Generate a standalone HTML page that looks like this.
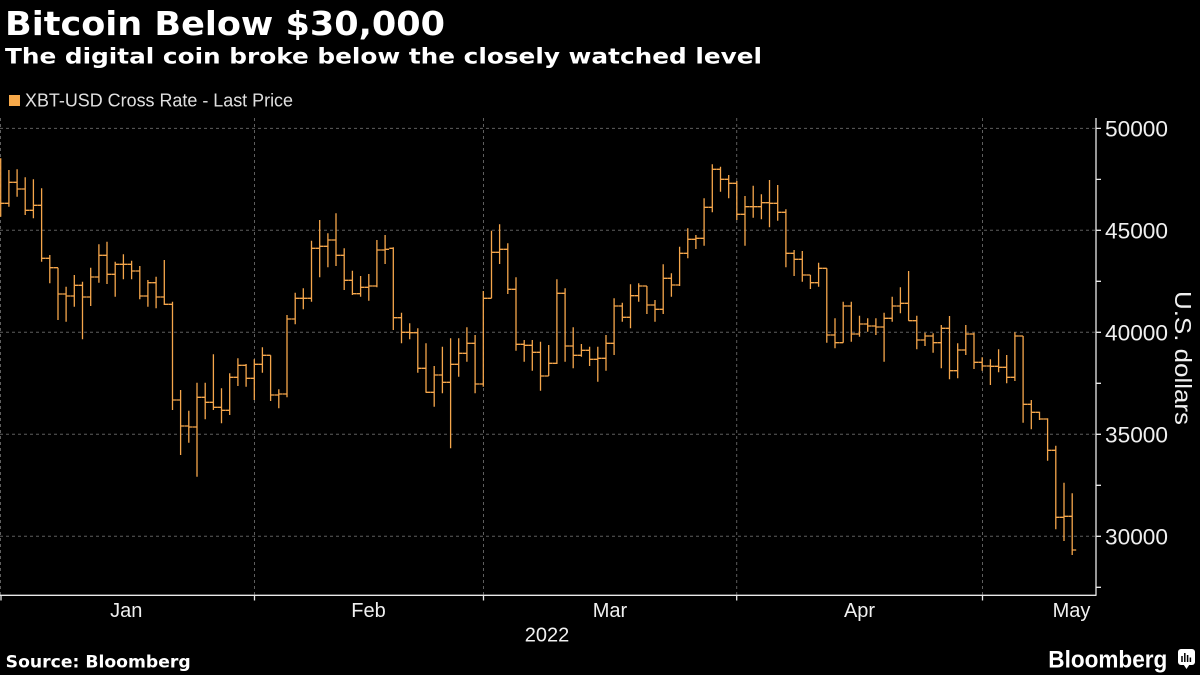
<!DOCTYPE html>
<html><head><meta charset="utf-8"><style>
html,body{margin:0;padding:0;background:#000;}
svg{display:block;}
</style></head><body>
<svg width="1200" height="675" viewBox="0 0 1200 675" xmlns="http://www.w3.org/2000/svg">
<rect width="1200" height="675" fill="#000"/>
<text x="5" y="35" font-family="DejaVu Sans, sans-serif" font-weight="bold" font-size="33" fill="#fff" textLength="440" lengthAdjust="spacingAndGlyphs">Bitcoin Below $30,000</text>
<text x="5" y="63.5" font-family="DejaVu Sans, sans-serif" font-weight="bold" font-size="21" fill="#fff" textLength="757" lengthAdjust="spacingAndGlyphs">The digital coin broke below the closely watched level</text>
<rect x="9" y="95" width="11" height="11" fill="#f7a94a"/>
<text x="25" y="106.7" font-family="Liberation Sans, sans-serif" font-size="18" fill="#e0e0e0" textLength="268" lengthAdjust="spacingAndGlyphs">XBT-USD Cross Rate - Last Price</text>
<g stroke="#5e5e5e" stroke-width="1" stroke-dasharray="3,3" fill="none">
<path d="M0 128.4H1096M0 230.3H1096M0 332.3H1096M0 434.3H1096M0 536.3H1096"/>
<path d="M0.5 118V595M254.5 118V595M483.5 118V595M736.7 118V595M982.5 118V595"/>
</g>
<g stroke="#e8e8e8" stroke-width="1.3" fill="none">
<path d="M0 595.3H1096.5M1096 118V595.3"/>
<path d="M1096 128.4H1101M1096 179.4H1101M1096 230.3H1101M1096 281.3H1101M1096 332.3H1101M1096 383.3H1101M1096 434.3H1101M1096 485.3H1101M1096 536.3H1101M1096 587.3H1101"/>
<path d="M1 595V600.5M254.5 595V600.5M483.5 595V600.5M736.7 595V600.5M982.5 595V600.5"/>
</g>
<g font-family="Liberation Sans, sans-serif" font-size="22.5" fill="#f0f0f0">
<text x="1105" y="136.4" textLength="63" lengthAdjust="spacingAndGlyphs">50000</text>
<text x="1105" y="238.3" textLength="63" lengthAdjust="spacingAndGlyphs">45000</text>
<text x="1105" y="340.3" textLength="63" lengthAdjust="spacingAndGlyphs">40000</text>
<text x="1105" y="442.3" textLength="63" lengthAdjust="spacingAndGlyphs">35000</text>
<text x="1105" y="544.3" textLength="63" lengthAdjust="spacingAndGlyphs">30000</text>
</g>
<text transform="translate(1175,358) rotate(90)" text-anchor="middle" font-family="Liberation Sans, sans-serif" font-size="23" fill="#f0f0f0" textLength="134" lengthAdjust="spacingAndGlyphs">U.S. dollars</text>
<g font-family="Liberation Sans, sans-serif" font-size="20" fill="#f0f0f0" text-anchor="middle">
<text x="126.3" y="617">Jan</text>
<text x="368.5" y="617">Feb</text>
<text x="610" y="617">Mar</text>
<text x="859.5" y="617">Apr</text>
<text x="1071.5" y="617">May</text>
<text x="547" y="641.7">2022</text>
</g>
<text x="5.7" y="667.3" font-family="DejaVu Sans, sans-serif" font-weight="bold" font-size="17" fill="#fff" textLength="185" lengthAdjust="spacingAndGlyphs">Source: Bloomberg</text>
<text x="1048.3" y="667.3" font-family="Liberation Sans, sans-serif" font-weight="bold" font-size="24" fill="#fff" textLength="119" lengthAdjust="spacingAndGlyphs">Bloomberg</text>
<rect x="1178" y="649" width="17" height="16" rx="3" fill="#fff"/>
<path d="M1183.5 664.5L1186.5 669L1189.5 664.5Z" fill="#fff"/>
<path d="M1182 656V662M1184.8 653V662M1187.6 655V662M1190.4 657.5V662" stroke="#000" stroke-width="1.5"/>
<clipPath id="pc"><rect x="0" y="110" width="1096" height="485"/></clipPath>
<g clip-path="url(#pc)" stroke="#f5a64b" stroke-width="1.3" fill="none">
<path d="M-3.3 203.3H0.7M0.7 158.3V216.7M0.7 203.3H4.7
M4.9 203.3H8.9M8.9 170V206.7M8.9 182.3H12.9
M13.1 182.3H17.1M17.1 169.3V196.7M17.1 189H21.1
M21.2 189H25.2M25.2 177.3V215M25.2 210.3H29.2
M29.4 210.3H33.4M33.4 179.3V218.3M33.4 205.3H37.4
M37.6 205.3H41.6M41.6 188.3V261.7M41.6 258.3H45.6
M45.8 258.3H49.8M49.8 255V283.3M49.8 267.7H53.8
M54 267.7H58M58 267.7V320M58 294H62
M62.1 294H66.1M66.1 286.7V321.7M66.1 296H70.1
M70.3 296H74.3M74.3 275V306.7M74.3 285.3H78.3
M78.5 285.3H82.5M82.5 281.7V339.3M82.5 297H86.5
M86.7 297H90.7M90.7 267.7V306M90.7 277H94.7
M94.9 277H98.9M98.9 244.3V282.7M98.9 255.3H102.9
M103 255.3H107M107 241.7V284M107 274.3H111
M111.2 274.3H115.2M115.2 261.7V296.7M115.2 264.3H119.2
M119.4 264.3H123.4M123.4 254.3V279.3M123.4 264.3H127.4
M127.6 264.3H131.6M131.6 260.7V279.3M131.6 271H135.6
M135.8 271H139.8M139.8 266V299.3M139.8 296H143.8
M143.9 296H147.9M147.9 280V306.7M147.9 282.7H151.9
M152.1 282.7H156.1M156.1 276.7V308.3M156.1 297H160.1
M160.3 297H164.3M164.3 260V305M164.3 304.3H168.3
M168.5 304.3H172.5M172.5 301.7V410M172.5 400H176.5
M176.6 400H180.6M180.6 390V455M180.6 426H184.6
M184.8 426H188.8M188.8 410.7V442.7M188.8 427H192.8
M193 427H197M197 382.7V476.7M197 397.3H201
M201.2 397.3H205.2M205.2 382.7V419.3M205.2 402.3H209.2
M209.4 402.3H213.4M213.4 354.3V410M213.4 407.3H217.4
M217.5 407.3H221.5M221.5 388.3V423.3M221.5 410.3H225.5
M225.7 410.3H229.7M229.7 373.3V415M229.7 377.3H233.7
M233.9 377.3H237.9M237.9 358.3V386M237.9 365.3H241.9
M242.1 365.3H246.1M246.1 364V386.7M246.1 378.3H250.1
M250.3 378.3H254.3M254.3 359.3V400M254.3 364.3H258.3
M258.4 364.3H262.4M262.4 347.3V372.7M262.4 355.3H266.4
M266.6 355.3H270.6M270.6 355.3V401M270.6 395H274.6
M274.8 395H278.8M278.8 389.3V408.3M278.8 394H282.8
M283 394H287M287 315V397.3M287 319H291
M291.2 319H295.2M295.2 292.7V324.3M295.2 298.3H299.2
M299.3 298.3H303.3M303.3 288.3V309.3M303.3 298.3H307.3
M307.5 298.3H311.5M311.5 240.7V301.7M311.5 248.3H315.5
M315.7 248.3H319.7M319.7 220V277.3M319.7 246.3H323.7
M323.9 246.3H327.9M327.9 233.3V267.3M327.9 240H331.9
M332 240H336M336 213.3V266M336 255.3H340
M340.2 255.3H344.2M344.2 248.3V290M344.2 280.3H348.2
M348.4 280.3H352.4M352.4 270.7V295M352.4 293.7H356.4
M356.6 293.7H360.6M360.6 276V296.7M360.6 287.3H364.6
M364.8 287.3H368.8M368.8 274V300.7M368.8 286H372.8
M372.9 286H376.9M376.9 240V287.3M376.9 250H380.9
M381.1 250H385.1M385.1 235V264M385.1 249.3H389.1
M389.3 248.3H393.3M393.3 247.3V330M393.3 317.7H397.3
M397.5 317.7H401.5M401.5 312.7V343.3M401.5 332.3H405.5
M405.7 332.3H409.7M409.7 323.3V339.3M409.7 332.7H413.7
M413.8 332.7H417.8M417.8 328.3V372.7M417.8 368.3H421.8
M422 368.3H426M426 343.3V392.7M426 392.3H430
M430.2 392.3H434.2M434.2 366V406.7M434.2 375H438.2
M438.4 375H442.4M442.4 346.7V393.3M442.4 382.3H446.4
M446.6 382.3H450.6M450.6 338.3V448.3M450.6 364.3H454.6
M454.7 364.3H458.7M458.7 338.3V376.7M458.7 353.3H462.7
M462.9 353.3H466.9M466.9 327.3V361.7M466.9 343.3H470.9
M471.1 343.3H475.1M475.1 335V393.3M475.1 384H479.1
M479.3 384H483.3M483.3 291V386.7M483.3 298.3H487.3
M487.5 298.3H491.5M491.5 230.7V298.3M491.5 252.3H495.5
M495.6 252.3H499.6M499.6 224.3V264M499.6 249.3H503.6
M503.8 249.3H507.8M507.8 243.3V294M507.8 289.3H511.8
M512 289.3H516M516 277.3V350.7M516 344.3H520
M520.2 344.3H524.2M524.2 340V361.7M524.2 345.3H528.2
M528.3 345.3H532.3M532.3 340V370.7M532.3 352.3H536.3
M536.5 352.3H540.5M540.5 341.7V390.7M540.5 376H544.5
M544.7 376H548.7M548.7 345V376M548.7 363.3H552.7
M552.9 363.3H556.9M556.9 279.3V364M556.9 293.3H560.9
M561.1 293.3H565.1M565.1 288.3V361.7M565.1 346H569.1
M569.2 346H573.2M573.2 327.3V368.3M573.2 355.3H577.2
M577.4 355.3H581.4M581.4 344V356.7M581.4 350.3H585.4
M585.6 350.3H589.6M589.6 346.7V366M589.6 359.3H593.6
M593.8 359.3H597.8M597.8 346.7V381.7M597.8 358.3H601.8
M602 358.3H606M606 335V370.7M606 343.3H610
M610.1 343.3H614.1M614.1 298.3V355M614.1 306H618.1
M618.3 306H622.3M622.3 302.7V321.7M622.3 317.3H626.3
M626.5 317.3H630.5M630.5 284.3V328.3M630.5 295.7H634.5
M634.7 295.7H638.7M638.7 283.3V301.7M638.7 286H642.7
M642.9 286H646.9M646.9 286V314M646.9 305H650.9
M651 305H655M655 300V321.7M655 309.3H659
M659.2 309.3H663.2M663.2 264.3V314M663.2 278.3H667.2
M667.4 278.3H671.4M671.4 273.3V296.7M671.4 285H675.4
M675.6 285H679.6M679.6 246.7V286M679.6 253.3H683.6
M683.8 253.3H687.8M687.8 228.3V258.3M687.8 239.3H691.8
M691.9 239.3H695.9M695.9 235V249M695.9 238.3H699.9
M700.1 238.3H704.1M704.1 198.3V245.7M704.1 207.3H708.1
M708.3 207.3H712.3M712.3 164.3V212.3M712.3 169.3H716.3
M716.5 169.3H720.5M720.5 166.7V191.7M720.5 179.3H724.5
M724.7 179.3H728.7M728.7 175V198.3M728.7 183.3H732.7
M732.8 183.3H736.8M736.8 181V220M736.8 214.3H740.8
M741 214.3H745M745 196V245.7M745 206.7H749
M749.2 206.7H753.2M753.2 185.7V217.7M753.2 206.7H757.2
M757.4 206.7H761.4M761.4 194.3V219.3M761.4 202.7H765.4
M765.5 202.7H769.5M769.5 180V227.3M769.5 203.3H773.5
M773.7 203.3H777.7M777.7 185V220.7M777.7 212.3H781.7
M781.9 212.3H785.9M785.9 209.3V267.3M785.9 253.3H789.9
M790.1 253.3H794.1M794.1 250V276M794.1 259.3H798.1
M798.3 259.3H802.3M802.3 251V281.7M802.3 275H806.3
M806.4 275H810.4M810.4 275V289M810.4 282.7H814.4
M814.6 282.7H818.6M818.6 262.7V286.7M818.6 268.3H822.6
M822.8 268.3H826.8M826.8 268.3V342.7M826.8 335H830.8
M831 335H835M835 318.3V348.3M835 342.7H839
M839.2 342.7H843.2M843.2 301.7V342.7M843.2 306H847.2
M847.3 306H851.3M851.3 301.7V341.7M851.3 334H855.3
M855.5 334H859.5M859.5 315.7V336.7M859.5 324H863.5
M863.7 324H867.7M867.7 318.3V331.7M867.7 326H871.7
M871.9 326H875.9M875.9 318.3V335M875.9 327H879.9
M880.1 327H884.1M884.1 312.7V361.7M884.1 318.3H888.1
M888.2 318.3H892.2M892.2 296.7V321.7M892.2 306H896.2
M896.4 306H900.4M900.4 287.3V313.3M900.4 303.3H904.4
M904.6 303.3H908.6M908.6 271V320.7M908.6 320.7H912.6
M912.8 320.7H916.8M916.8 315.7V349.3M916.8 340H920.8
M921 340H925M925 332.7V346M925 336H929
M929.1 336H933.1M933.1 333.3V352.7M933.1 342.7H937.1
M937.3 342.7H941.3M941.3 325V368.3M941.3 328.3H945.3
M945.5 328.3H949.5M949.5 316V379.3M949.5 370.7H953.5
M953.7 370.7H957.7M957.7 343.3V378.3M957.7 350H961.7
M961.8 350H965.8M965.8 325V355M965.8 334H969.8
M970 334H974M974 332.7V369M974 362.3H978
M978.2 362.3H982.2M982.2 357.3V370.7M982.2 366H986.2
M986.4 366H990.4M990.4 359.3V385M990.4 366.3H994.4
M994.6 366.3H998.6M998.6 349.3V372.3M998.6 367.3H1002.6
M1002.7 367.3H1006.7M1006.7 355V383.3M1006.7 377.3H1010.7
M1010.9 377.3H1014.9M1014.9 332.3V381M1014.9 336H1018.9
M1019.1 336H1023.1M1023.1 336V422.7M1023.1 404.3H1027.1
M1027.3 404.3H1031.3M1031.3 400V429.3M1031.3 412.3H1035.3
M1035.5 412.3H1039.5M1039.5 411.7V420M1039.5 419H1043.5
M1043.6 419H1047.6M1047.6 418.3V460.7M1047.6 450.3H1051.6
M1051.8 450.3H1055.8M1055.8 445.7V529.3M1055.8 517.3H1059.8
M1060 517.3H1064M1064 482.7V541M1064 516.3H1068
M1068.2 516.3H1072.2M1072.2 493.3V555M1072.2 550H1076.2"/>
</g>
</svg>
</body></html>
